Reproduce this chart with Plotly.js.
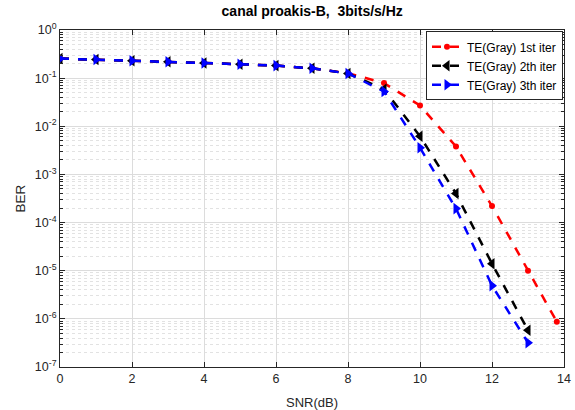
<!DOCTYPE html>
<html><head><meta charset="utf-8">
<script src="https://cdn.plot.ly/plotly-3.0.1.min.js"></script>
<style>html,body{margin:0;padding:0;background:#fff}#c{width:575px;height:410px}</style>
</head><body><div id="c"></div>
<script>
const snr1 = [0,1,2,3,4,5,6,7,8,9,10,11,12,13,13.8];
const ber1 = [0.255,0.243,0.229,0.218,0.207,0.195,0.182,0.160,0.127,0.079,0.027,0.0038,0.00022,0.00001,8.7e-7];
const snr2 = [0,1,2,3,4,5,6,7,8,9,10,11,12,13];
const ber2 = [0.255,0.243,0.229,0.218,0.207,0.195,0.182,0.160,0.125,0.059,0.0062,0.0004,0.000014,5.8e-7];
const snr3 = [0,1,2,3,4,5,6,7,8,9,10,11,12,13];
const ber3 = [0.255,0.243,0.229,0.218,0.207,0.195,0.182,0.160,0.125,0.053,0.0036,0.000195,0.0000049,3.2e-7];
const names = ['TE(Gray) 1st iter','TE(Gray) 2th iter','TE(Gray) 3th iter'];
const yTickVals = [1,0.1,0.01,0.001,0.0001,0.00001,0.000001,0.0000001];
const yTickText = ['10<sup>0</sup>','10<sup>-1</sup>','10<sup>-2</sup>','10<sup>-3</sup>','10<sup>-4</sup>','10<sup>-5</sup>','10<sup>-6</sup>','10<sup>-7</sup>'];

const F = 'Liberation Sans, Arial, sans-serif';
const traces = [
  {x:snr1,y:ber1,name:names[0],mode:'lines+markers',line:{color:'#ff0000',dash:'dash',width:2.5},marker:{symbol:'circle',size:6,color:'#ff0000'}},
  {x:snr2,y:ber2,name:names[1],mode:'lines+markers',line:{color:'#000000',dash:'dash',width:2.5},marker:{symbol:'triangle-left',size:10,color:'#000000'}},
  {x:snr3,y:ber3,name:names[2],mode:'lines+markers',line:{color:'#0000ff',dash:'dash',width:2.5},marker:{symbol:'triangle-right',size:10,color:'#0000ff'}}
];
const layout = {
  width:575,height:410,
  margin:{l:60,r:11,t:30,b:43},
  paper_bgcolor:'#fff',plot_bgcolor:'#fff',
  font:{family:F,size:12,color:'#262626'},
  title:{text:'<b>canal proakis-B,  3bits/s/Hz</b>',font:{family:F,size:14,color:'#000'},x:0.543,xanchor:'center',y:0.972,yanchor:'middle'},
  showlegend:true,
  legend:{x:0.998,xanchor:'right',y:0.996,yanchor:'top',bgcolor:'#fff',bordercolor:'#262626',borderwidth:1,font:{family:F,size:12,color:'#000'},tracegroupgap:0,itemwidth:30},
  xaxis:{range:[0,14],dtick:2,tick0:0,ticks:'inside',ticklen:5,tickcolor:'#262626',showline:true,linecolor:'#262626',linewidth:1,mirror:'ticks',
    showgrid:true,gridcolor:'#dcdcdc',gridwidth:1,zeroline:false,
    title:{text:'SNR(dB)',font:{family:F,size:13,color:'#262626'},standoff:16},tickfont:{family:F,size:12.5,color:'#262626'}},
  yaxis:{type:'log',range:[-7,0],tickmode:'array',tickvals:yTickVals,ticktext:yTickText,ticks:'inside',ticklen:5,tickcolor:'#262626',
    showline:true,linecolor:'#262626',linewidth:1,mirror:'ticks',showgrid:true,gridcolor:'#dcdcdc',gridwidth:1,zeroline:false,
    minor:{dtick:'D1',ticks:'inside',ticklen:3,tickcolor:'#262626',showgrid:true,gridcolor:'#e2e2e2',griddash:'dot',gridwidth:1},
    title:{text:'BER',font:{family:F,size:13.5,color:'#262626'},standoff:6},tickfont:{family:F,size:12.5,color:'#262626'}}
};
Plotly.newPlot('c',traces,layout,{displayModeBar:false,staticPlot:true});
</script></body></html>
